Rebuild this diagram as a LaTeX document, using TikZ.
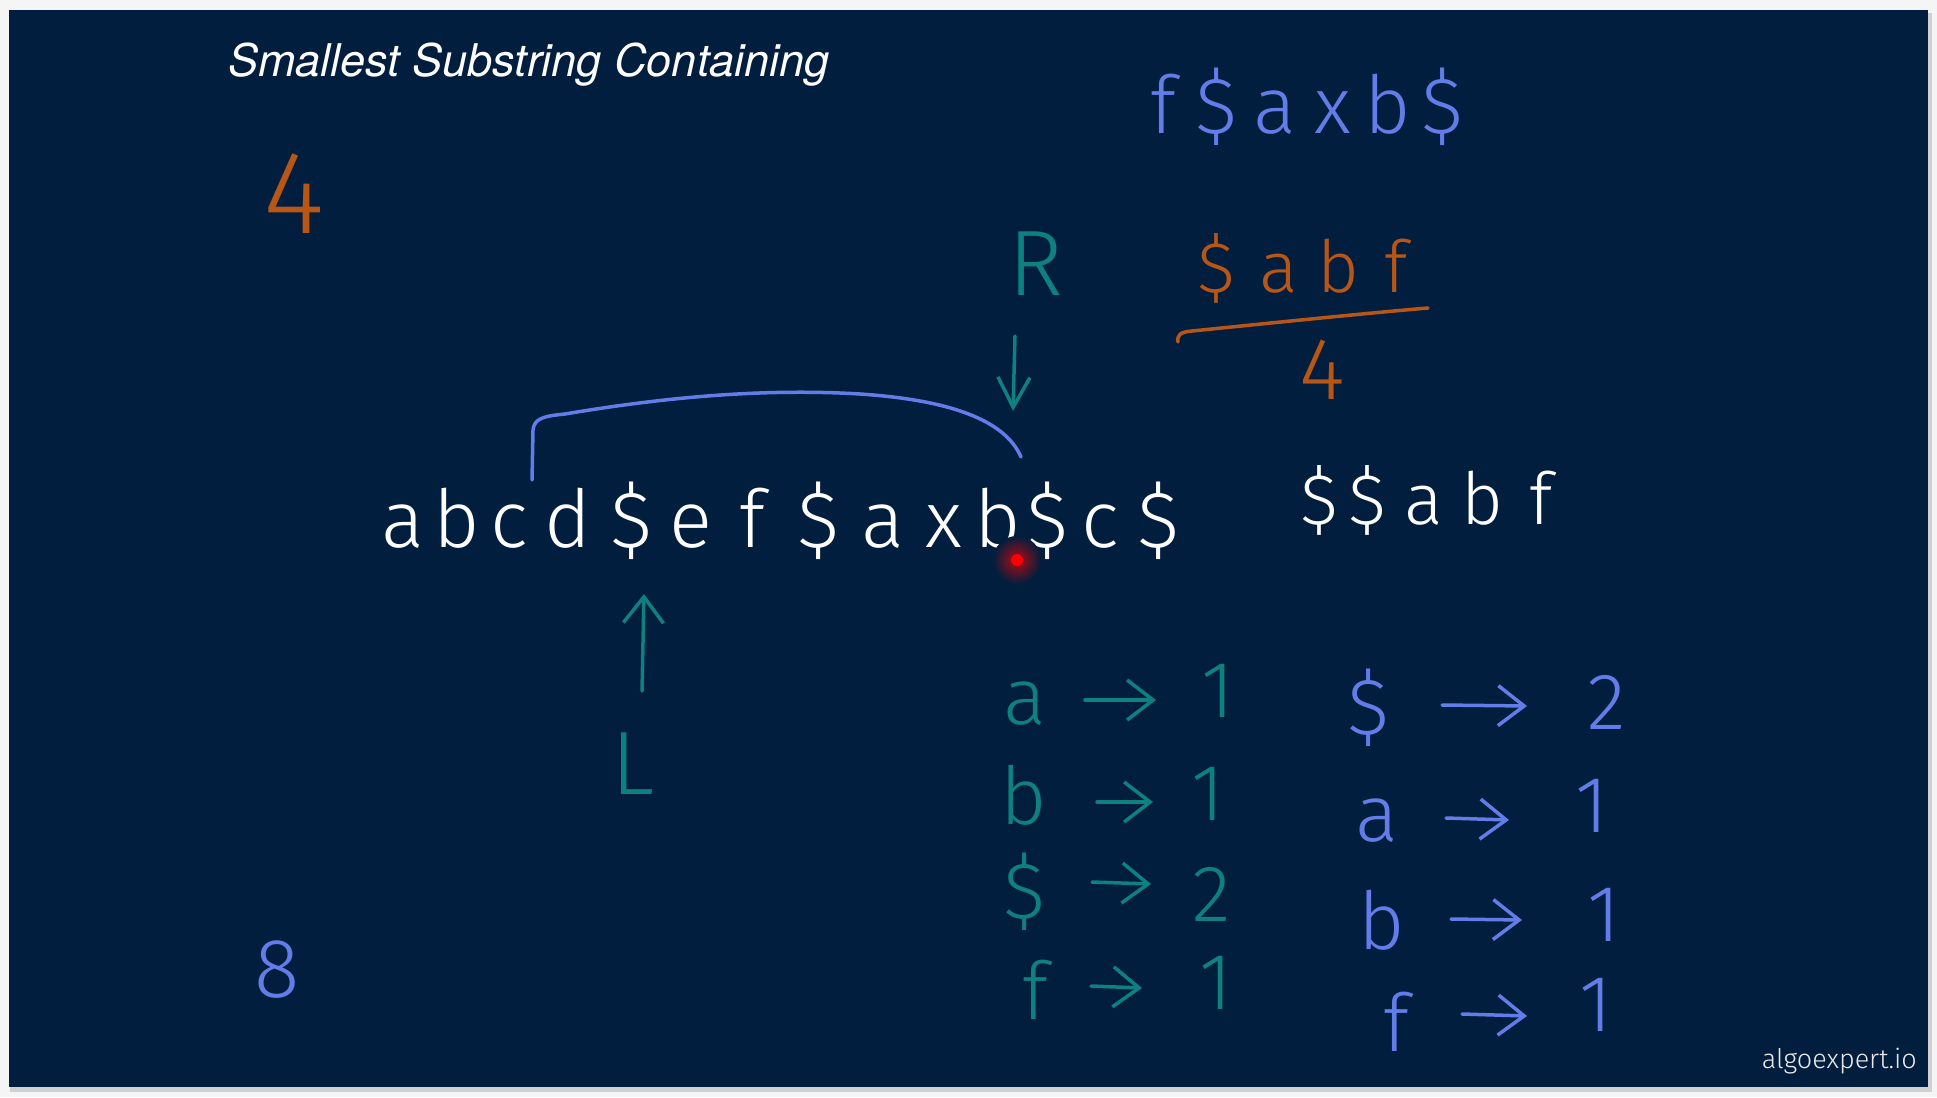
\documentclass[tikz,border=0pt]{standalone}
\usepackage{fontspec}
\newfontfamily\hand{Fira Sans Light}
\newfontfamily\titlefont{TeX Gyre Heros}
\usetikzlibrary{arrows.meta}
\definecolor{slidebg}{RGB}{2,30,62}
\definecolor{penblue}{RGB}{98,124,232}
\definecolor{penteal}{RGB}{14,128,128}
\definecolor{penorange}{RGB}{184,86,22}
\newcommand\cb[2]{\makebox[#1pt]{#2}}
\newcommand\hsz[1]{\fontsize{#1pt}{#1pt}\selectfont}
\begin{document}
\begin{tikzpicture}[x=1pt,y=-1pt,
  hw/.style={inner sep=0pt},
  pen/.style={line width=4pt, line cap=round, line join=round},
  barb/.style={-{Straight Barb[length=26pt,width=40pt]}},
  tealtxt/.style={hw, text=penteal, font=\hand\hsz{80}},
  bluetxt/.style={hw, text=penblue, font=\hand\hsz{80}}]
\useasboundingbox (0,0) rectangle (1937,1097);
% frame and slide
\fill[white!96!black] (0,0) rectangle (1937,1097);
\fill[black!18] (10,13) rectangle (1932,1092);
\fill[slidebg] (9,10) rectangle (1928,1087);
% title
\node[hw, anchor=base west, text=white, font=\titlefont\itshape\hsz{45}] (title) at (228,77) {Smallest Substring Containing};
% left side numbers
\node[hw, text=penorange, font=\hand\hsz{118}] (four) at (294,194) {4};
\node[hw, text=penblue, font=\hand\hsz{84}] (eight) at (277,970) {8};
% top right strings
\node[hw, anchor=base west, text=penblue, font=\hand\hsz{80}] (topstr) at (1138,133)
  {\cb{50}{f}\cb{57.5}{\$}\cb{59.5}{a}\cb{55}{x}\cb{55.5}{b}\cb{54.5}{\$}};
\node[hw, anchor=base west, text=penorange, font=\hand\hsz{72}] (orstr) at (1185,292)
  {\cb{62.5}{\$}\cb{62}{a}\cb{58}{b}\cb{57.5}{f}};
\coordinate (ulA) at (1178,342);
\coordinate (ulB) at (1428,308);
\draw[pen, penorange, line width=3.5pt] (ulA) .. controls (1177,335) and (1180,332) .. (1192,331) .. controls (1300,320) and (1380,312) .. (ulB);
\node[hw, text=penorange, font=\hand\hsz{88}] (fourb) at (1322,370) {4};
% R pointer
\node[hw, text=penteal, font=\hand\hsz{93}] (R) at (1036,264) {R};
\coordinate (Rtail) at (1015,336);
\coordinate (Rtip) at (1013,411);
\draw[pen, penteal, line width=3.5pt, -{Straight Barb[length=30pt,width=32pt]}] (Rtail) -- (Rtip);
% main string
\node[hw, anchor=base west, text=white, font=\hand\hsz{80}] (mainstr) at (374,547)
  {\cb{56.5}{a}\cb{52.5}{b}\cb{53}{c}\cb{64}{d}\cb{62}{\$}\cb{57.5}{e}\cb{65}{f}\cb{67}{\$}\cb{62.5}{a}\cb{58.5}{x}\cb{50.5}{b}\cb{48.5}{\$}\cb{56.5}{c}\cb{60}{\$}};
\node[hw, anchor=base west, text=white, font=\hand\hsz{72}] (rightstr) at (1298,524)
  {\cb{42.5}{\$}\cb{53}{\$}\cb{60}{a}\cb{57.5}{b}\cb{59}{f}};
% bracket
\coordinate (brL) at (532,480);
\coordinate (brR) at (1021,457);
\draw[pen, penblue, line width=3.5pt] (brL) -- (533,430) .. controls (534,418) and (545,416) .. (565,414) .. controls (660,398) and (760,388) .. (860,394) .. controls (950,400) and (1005,420) .. (brR);
% red laser dot
\node[circle, minimum size=48pt, inner sep=0pt, inner color=red!70!slidebg, outer color=slidebg] (glow) at (1017,560) {};
\node[circle, minimum size=12pt, inner sep=0pt, fill=red] (dot) at (glow) {};
% L pointer
\coordinate (Ltail) at (642,691);
\coordinate (Ltip) at (644,594);
\draw[pen, penteal, line width=3.5pt, barb] (Ltail) -- (Ltip);
\node[hw, text=penteal, font=\hand\hsz{90}] (L) at (633,764) {L};
% teal table
\node[tealtxt] (ta1) at (1025,704) {a};
\node[tealtxt] (tn1) at (1218,691) {1};
\node[tealtxt] (ta2) at (1024,795) {b};
\node[tealtxt] (tn2) at (1208,794) {1};
\node[tealtxt] (ta3) at (1025,892) {\$};
\node[tealtxt] (tn3) at (1212,894) {2};
\node[tealtxt] (ta4) at (1035,990) {f};
\node[tealtxt] (tn4) at (1216,983) {1};
\coordinate (te1s) at (1085,700); \coordinate (te1e) at (1156,700);
\coordinate (te2s) at (1097,802); \coordinate (te2e) at (1153,802);
\coordinate (te3s) at (1092,882); \coordinate (te3e) at (1151,884);
\coordinate (te4s) at (1091,986); \coordinate (te4e) at (1142,988);
\foreach \i in {1,2,3,4} \draw[pen, penteal, line width=3.5pt, barb] (te\i s) -- (te\i e);
% blue table
\node[bluetxt] (ba1) at (1369,708) {\$};
\node[bluetxt] (bn1) at (1607,702) {2};
\node[bluetxt] (ba2) at (1377,821) {a};
\node[bluetxt] (bn2) at (1592,806) {1};
\node[bluetxt] (ba3) at (1382,920) {b};
\node[bluetxt] (bn3) at (1604,915) {1};
\node[bluetxt] (ba4) at (1396,1022) {f};
\node[bluetxt] (bn4) at (1596,1005) {1};
\coordinate (be1s) at (1442,705); \coordinate (be1e) at (1527,706);
\coordinate (be2s) at (1446,818); \coordinate (be2e) at (1509,820);
\coordinate (be3s) at (1451,919); \coordinate (be3e) at (1522,920);
\coordinate (be4s) at (1462,1014); \coordinate (be4e) at (1527,1016);
\foreach \i in {1,2,3,4} \draw[pen, penblue, line width=3.5pt, barb] (be\i s) -- (be\i e);
% logo
\node[hw, anchor=base east, text=white!92!black, font=\hand\hsz{27}] (logo) at (1917,1068) {algoexpert.io};
\end{tikzpicture}
\end{document}
